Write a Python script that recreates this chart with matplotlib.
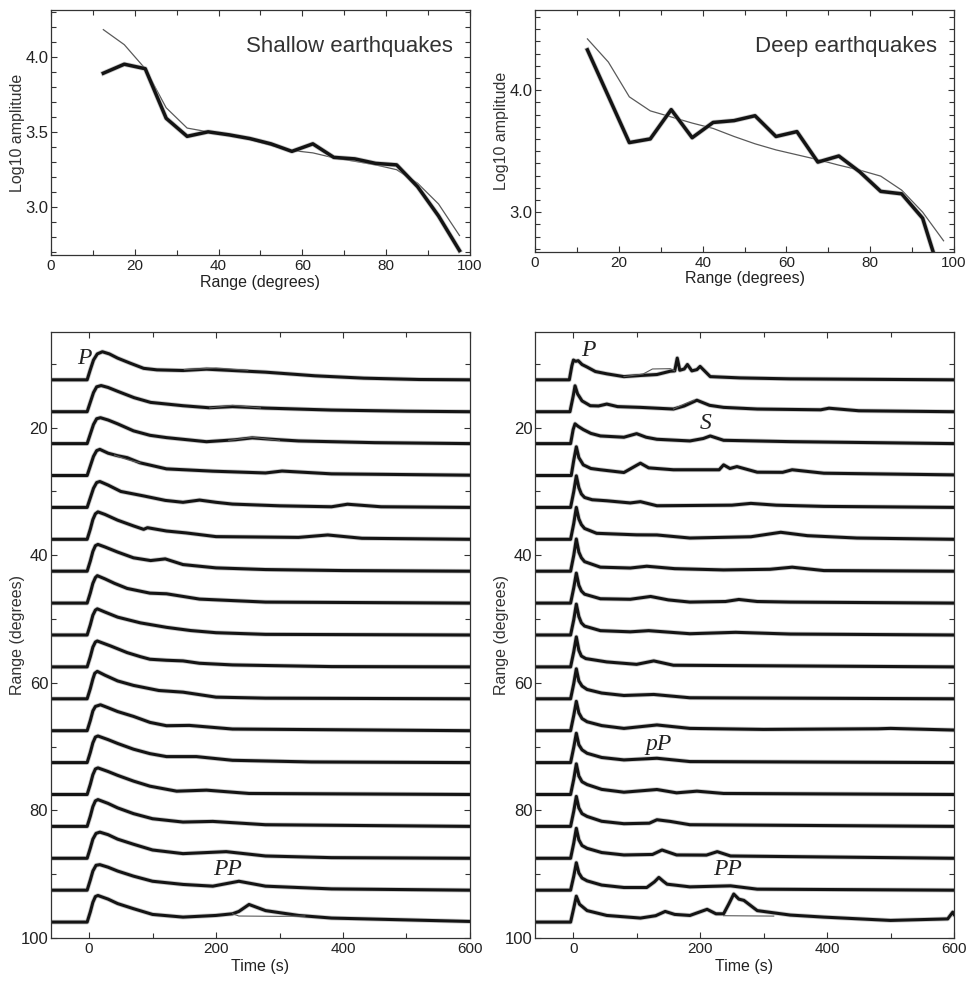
import matplotlib
matplotlib.use("Agg")
import matplotlib.pyplot as plt
from matplotlib.ticker import MultipleLocator, FormatStrFormatter

plt.rcParams['font.family'] = ['Liberation Sans', 'DejaVu Sans']

# --- amplitude against range (top panels) ---
range_deg = [12.5, 17.5, 22.5, 27.5, 32.5, 37.5, 42.5, 47.5, 52.5,
             57.5, 62.5, 67.5, 72.5, 77.5, 82.5, 87.5, 92.5, 97.5]

shallow_amp = [3.89, 3.95, 3.92, 3.59, 3.47, 3.50, 3.48, 3.455, 3.42,
               3.37, 3.42, 3.33, 3.32, 3.29, 3.28, 3.135, 2.94, 2.71]
shallow_model = [4.18, 4.08, 3.92, 3.66, 3.525, 3.50, 3.484, 3.45, 3.41,
                 3.376, 3.36, 3.327, 3.304, 3.28, 3.248, 3.158, 3.02, 2.81]

deep_amp = [4.33, None, 3.57, 3.60, 3.84, 3.61, 3.735, 3.75, 3.79,
            3.62, 3.66, 3.41, 3.46, 3.33, 3.17, 3.15, 2.95, 2.40]
deep_model = [4.42, 4.23, 3.945, 3.83, 3.78, 3.73, 3.686, 3.62, 3.56,
              3.51, 3.47, 3.43, 3.385, 3.344, 3.295, 3.18, 3.00, 2.765]

# --- stacked average waveforms (bottom panels), (time s, amplitude in degrees) ---
shallow_traces = [
    [(-60, 0), (-3, 0), (2, 1.6), (7, 3.1), (13, 4.06), (21, 4.4), (32, 4.06), (45, 3.4), (65, 2.6), (86, 1.8), (107, 1.56), (148, 1.46), (185, 1.67), (226, 1.46), (278, 1.2), (356, 0.63), (433, 0.26), (520, 0.05), (600, 0)],
    [(-60, 0), (-3, 0), (2, 1.5), (7, 3.0), (12, 3.9), (19, 4.1), (30, 3.8), (45, 3.2), (71, 2.2), (97, 1.46), (148, 0.94), (189, 0.62), (226, 0.8), (278, 0.57), (382, 0.26), (500, 0.08), (600, 0)],
    [(-60, 0), (-3, 0), (2, 1.5), (7, 3.0), (12, 3.9), (18, 4.06), (30, 3.7), (45, 3.1), (70, 2.0), (96, 1.3), (122, 0.94), (185, 0.3), (230, 0.6), (257, 0.9), (300, 0.6), (330, 0.42), (450, 0.15), (600, 0)],
    [(-60, 0), (-3, 0), (2, 1.5), (7, 3.0), (12, 3.9), (17, 4.1), (30, 3.5), (45, 3.1), (60, 2.8), (80, 2.0), (122, 1.04), (195, 0.68), (278, 0.4), (304, 0.7), (382, 0.26), (600, 0.05)],
    [(-60, 0), (-3, 0), (2, 1.5), (7, 3.0), (12, 3.9), (17, 4.06), (30, 3.5), (50, 2.5), (86, 1.8), (120, 1.1), (148, 0.8), (174, 1.15), (200, 0.8), (226, 0.52), (300, 0.25), (382, 0.1), (407, 0.5), (460, 0.1), (600, 0)],
    [(-60, 0), (-3, 0), (2, 1.6), (6, 3.1), (10, 4.0), (14, 4.3), (25, 3.9), (45, 3.0), (70, 2.1), (86, 1.56), (92, 1.82), (122, 1.3), (153, 1.0), (200, 0.42), (330, 0.3), (376, 0.68), (430, 0.16), (600, 0)],
    [(-60, 0), (-3, 0), (2, 1.6), (6, 3.1), (10, 4.0), (14, 4.2), (25, 3.8), (45, 3.0), (70, 2.1), (97, 1.67), (120, 1.93), (148, 1.04), (200, 0.52), (278, 0.26), (400, 0.1), (600, 0)],
    [(-60, 0), (-3, 0), (2, 1.6), (6, 3.1), (10, 4.0), (13, 4.3), (25, 3.8), (40, 3.1), (60, 2.3), (96, 1.56), (122, 1.46), (174, 0.63), (278, 0.16), (600, 0)],
    [(-60, 0), (-3, 0), (2, 1.6), (6, 3.1), (10, 3.9), (13, 4.1), (25, 3.6), (45, 2.8), (81, 1.9), (122, 1.2), (160, 0.7), (200, 0.36), (278, 0.1), (600, 0)],
    [(-60, 0), (-3, 0), (2, 1.6), (6, 3.1), (10, 3.9), (13, 4.06), (34, 3.28), (60, 2.24), (81, 1.6), (96, 1.2), (122, 1.04), (148, 0.94), (174, 0.57), (226, 0.31), (290, 0.2), (382, 0.05), (600, 0)],
    [(-60, 0), (-3, 0), (2, 1.6), (6, 3.1), (9, 4.0), (13, 4.3), (25, 3.7), (45, 2.8), (70, 2.1), (110, 1.3), (148, 1.04), (200, 0.26), (278, 0.1), (600, 0)],
    [(-60, 0), (-3, 0), (2, 1.6), (6, 3.1), (10, 3.8), (18, 4.06), (30, 3.6), (45, 3.0), (70, 2.24), (96, 1.3), (122, 0.78), (158, 0.83), (226, 0.26), (600, 0)],
    [(-60, 0), (-3, 0), (2, 1.6), (6, 3.1), (10, 4.0), (14, 4.17), (30, 3.6), (45, 3.0), (70, 2.1), (96, 1.4), (122, 0.94), (169, 0.94), (226, 0.36), (350, 0.1), (600, 0)],
    [(-60, 0), (-3, 0), (2, 1.6), (6, 3.1), (10, 4.0), (14, 4.17), (30, 3.6), (45, 3.0), (70, 2.1), (96, 1.3), (138, 0.52), (185, 0.68), (252, 0.16), (600, 0)],
    [(-60, 0), (-3, 0), (2, 1.6), (6, 3.1), (10, 4.0), (14, 4.2), (30, 3.6), (45, 2.9), (70, 2.0), (100, 1.2), (148, 0.68), (195, 0.78), (278, 0.26), (600, 0)],
    [(-60, 0), (-3, 0), (2, 1.6), (6, 3.0), (11, 3.9), (17, 4.1), (30, 3.7), (45, 3.0), (70, 2.2), (100, 1.3), (148, 0.73), (216, 1.04), (278, 0.36), (382, 0.1), (600, 0)],
    [(-60, 0), (-3, 0), (2, 1.6), (6, 3.0), (11, 3.9), (17, 4.0), (30, 3.6), (45, 3.0), (70, 2.2), (100, 1.4), (148, 0.9), (195, 0.63), (236, 1.4), (278, 0.63), (382, 0.2), (600, 0)],
    [(-60, 0), (-3, 0), (2, 1.6), (6, 3.1), (10, 4.0), (14, 4.17), (30, 3.6), (45, 2.9), (70, 2.1), (100, 1.2), (148, 0.78), (200, 1.04), (226, 1.3), (236, 1.67), (252, 2.76), (278, 1.8), (330, 1.04), (382, 0.63), (600, 0.1)],
]

deep_traces = [
    [(-60, 0), (-6, 0), (-2, 2.2), (0.5, 3.1), (4, 2.9), (8, 3.0), (14, 2.4), (22, 2.0), (35, 1.3), (53, 0.94), (80, 0.5), (106, 0.68), (132, 0.83), (153, 1.35), (160, 1.4), (164, 3.4), (168, 1.5), (175, 1.7), (180, 2.4), (187, 1.4), (195, 1.6), (200, 2.1), (216, 0.5), (263, 0.3), (342, 0.15), (600, 0)],
    [(-60, 0), (-5, 0), (0, 2.4), (3, 4.06), (7, 2.8), (14, 1.7), (27, 0.94), (40, 0.9), (53, 1.2), (70, 0.8), (106, 0.68), (158, 0.42), (175, 0.9), (195, 1.8), (215, 1.0), (237, 0.68), (290, 0.42), (390, 0.3), (403, 0.55), (450, 0.15), (600, 0)],
    [(-60, 0), (-4, 0), (0, 2.2), (3, 3.1), (8, 2.7), (16, 2.2), (28, 1.6), (43, 1.2), (80, 1.0), (100, 1.56), (115, 1.0), (132, 0.68), (184, 0.42), (205, 0.8), (216, 1.2), (237, 0.52), (342, 0.31), (600, 0)],
    [(-60, 0), (-3, 0), (1, 2.4), (5, 4.5), (9, 2.8), (16, 1.67), (28, 1.1), (43, 0.9), (80, 0.47), (100, 1.6), (106, 1.93), (119, 1.2), (158, 0.9), (230, 0.9), (237, 1.67), (247, 1.1), (258, 1.4), (290, 0.52), (330, 0.5), (345, 0.9), (395, 0.36), (600, 0.1)],
    [(-60, 0), (-4, 0), (1, 2.5), (5, 4.95), (9, 3.1), (13, 2.1), (18, 1.56), (30, 1.2), (53, 1.04), (90, 0.7), (106, 0.9), (132, 0.26), (250, 0.35), (280, 0.63), (320, 0.35), (395, 0.16), (600, 0)],
    [(-60, 0), (-4, 0), (1, 2.5), (5, 5.0), (9, 3.2), (13, 2.3), (18, 1.7), (37, 0.94), (100, 0.7), (132, 0.68), (184, 0.2), (280, 0.4), (327, 1.1), (369, 0.57), (447, 0.2), (600, 0)],
    [(-60, 0), (-4, 0), (1, 2.5), (5, 5.05), (9, 3.0), (13, 2.1), (18, 1.5), (43, 0.63), (90, 0.5), (116, 0.78), (160, 0.4), (237, 0.2), (310, 0.3), (345, 0.63), (395, 0.1), (600, 0)],
    [(-60, 0), (-4, 0), (1, 2.4), (5, 4.7), (9, 2.8), (13, 1.9), (18, 1.4), (43, 0.68), (90, 0.6), (122, 1.04), (150, 0.5), (184, 0.16), (240, 0.25), (261, 0.57), (290, 0.25), (342, 0.16), (600, 0)],
    [(-60, 0), (-4, 0), (1, 2.4), (5, 4.84), (9, 2.9), (13, 1.9), (18, 1.4), (43, 0.68), (90, 0.5), (119, 0.68), (184, 0.2), (256, 0.42), (342, 0.15), (600, 0)],
    [(-60, 0), (-4, 0), (1, 2.4), (5, 4.7), (9, 2.6), (13, 1.7), (20, 1.3), (53, 0.78), (100, 0.4), (127, 0.94), (158, 0.26), (600, 0)],
    [(-60, 0), (-4, 0), (1, 2.4), (5, 4.7), (9, 2.8), (14, 2.0), (22, 1.46), (45, 0.9), (80, 0.52), (127, 0.68), (184, 0.16), (600, 0)],
    [(-60, 0), (-4, 0), (1, 2.4), (5, 4.6), (9, 2.8), (14, 1.9), (22, 1.4), (45, 0.8), (80, 0.36), (132, 0.9), (184, 0.36), (300, 0.2), (480, 0.3), (500, 0.36), (600, 0.1)],
    [(-60, 0), (-4, 0), (1, 2.4), (5, 4.6), (9, 2.8), (14, 2.0), (22, 1.46), (45, 0.8), (80, 0.42), (132, 0.68), (184, 0.16), (600, 0)],
    [(-60, 0), (-4, 0), (1, 2.4), (5, 4.8), (9, 2.9), (14, 2.0), (22, 1.56), (45, 0.8), (80, 0.36), (132, 0.78), (163, 0.26), (195, 0.52), (237, 0.16), (600, 0)],
    [(-60, 0), (-4, 0), (1, 2.4), (5, 4.7), (9, 2.9), (14, 2.0), (22, 1.56), (45, 0.8), (80, 0.42), (120, 0.5), (132, 1.04), (153, 0.78), (184, 0.26), (600, 0)],
    [(-60, 0), (-4, 0), (1, 2.4), (5, 4.7), (9, 2.9), (14, 2.0), (22, 1.56), (45, 0.9), (80, 0.52), (125, 0.6), (140, 1.3), (163, 0.52), (210, 0.5), (227, 1.04), (248, 0.36), (600, 0)],
    [(-60, 0), (-4, 0), (1, 2.2), (5, 4.3), (9, 2.7), (14, 1.9), (22, 1.46), (45, 0.8), (80, 0.42), (116, 0.42), (128, 1.3), (135, 2.0), (142, 1.4), (148, 0.94), (184, 0.52), (248, 0.68), (290, 0.16), (600, 0)],
    [(-60, 0), (-4, 0), (1, 2.2), (5, 4.06), (10, 2.8), (22, 1.8), (53, 1.04), (106, 0.63), (130, 1.0), (145, 1.67), (160, 1.2), (184, 1.04), (211, 2.0), (225, 1.3), (237, 1.3), (245, 2.8), (253, 4.4), (261, 3.6), (269, 3.4), (290, 1.8), (342, 1.1), (395, 0.78), (500, 0.26), (590, 0.5), (598, 1.56), (600, 1.2)],
]

# thin model curves where they separate from the data: (trace index, points)
shallow_model_parts = [
    (0, [(150, 1.6), (200, 1.85), (250, 1.5)]),
    (1, [(190, 0.6), (226, 1.0), (270, 0.6)]),
    (2, [(220, 0.5), (257, 1.0), (300, 0.5)]),
    (3, [(40, 3.2), (60, 2.5), (80, 2.0)]),
    (17, [(226, 1.3), (236, 0.95), (300, 0.9), (340, 0.95)]),
]
deep_model_parts = [
    (0, [(80, 0.5), (110, 0.9), (125, 1.7), (153, 1.75), (160, 1.4)]),
    (1, [(158, 0.42), (175, 1.2), (190, 1.8)]),
    (17, [(237, 1.0), (316, 0.94)]),
]

# phase labels (time s, range deg)
shallow_phases = [("P", -8, 9.2), ("PP", 218, 89.2)]
deep_phases = [("P", 24, 7.9), ("S", 208, 19.3), ("pP", 134, 69.6), ("PP", 243, 89.2)]

INK = '#141414'
HALO = '#a8a8a8'
GREY = '#5a5a5a'
FRAME = '#333333'


def style_axes(ax):
    for s in ax.spines.values():
        s.set_color(FRAME)
        s.set_linewidth(0.9)
    ax.tick_params(which='both', direction='in', top=True, right=True,
                   colors=FRAME, labelcolor='#222222')
    ax.tick_params(axis='x', labelsize=11, pad=3)
    ax.tick_params(axis='y', labelsize=12, pad=2)
    ax.tick_params(which='major', length=4.5, width=0.8)
    ax.tick_params(which='minor', length=3.5, width=0.8)


def amp_panel(ax, thick, model, title, ylim):
    xs = [r for r, v in zip(range_deg, thick) if v is not None]
    ys = [v for v in thick if v is not None]
    ax.plot(range_deg, model, color=GREY, lw=0.9)
    ax.plot(xs, ys, color=HALO, lw=3.6, alpha=0.6, solid_joinstyle='round')
    ax.plot(xs, ys, color=INK, lw=2.5, solid_joinstyle='round')
    ax.set_xlim(0, 100)
    ax.set_ylim(*ylim)
    ax.xaxis.set_major_locator(MultipleLocator(20))
    ax.xaxis.set_minor_locator(MultipleLocator(10))
    ax.yaxis.set_major_locator(MultipleLocator(0.5) if ylim[1] < 4.4 else MultipleLocator(1.0))
    ax.yaxis.set_minor_locator(MultipleLocator(0.1))
    ax.yaxis.set_major_formatter(FormatStrFormatter('%.1f'))
    ax.set_xlabel('Range (degrees)', fontsize=11.5, color='#222222')
    ax.set_ylabel('Log10 amplitude', fontsize=11.5, color='#333333')
    ax.xaxis.set_label_coords(0.5, -0.08)
    ax.yaxis.set_label_coords(-0.062, 0.5)
    ax.text(0.96, 0.85, title, transform=ax.transAxes, ha='right', va='center',
            fontsize=16, color='#333333')
    style_axes(ax)


def trace_panel(ax, traces, model_parts, phases):
    for r, pts in zip(range_deg, traces):
        t = [p[0] for p in pts]
        a = [r - p[1] for p in pts]
        ax.plot(t, a, color=HALO, lw=3.4, alpha=0.6, solid_joinstyle='round')
        ax.plot(t, a, color=INK, lw=2.2, solid_joinstyle='round')
    for i, pts in model_parts:
        r = range_deg[i]
        ax.plot([p[0] for p in pts], [r - p[1] for p in pts], color=GREY, lw=0.8)
    for name, t, r in phases:
        ax.text(t, r, name, fontsize=17, style='italic', ha='center', va='center',
                color='#222222', family=['Liberation Serif', 'DejaVu Serif'])
    ax.set_xlim(-60, 600)
    ax.set_ylim(100, 5)
    ax.xaxis.set_major_locator(MultipleLocator(200))
    ax.xaxis.set_minor_locator(MultipleLocator(100))
    ax.yaxis.set_major_locator(MultipleLocator(20))
    ax.yaxis.set_minor_locator(MultipleLocator(10))
    ax.set_xlabel('Time (s)', fontsize=11.5, color='#222222')
    ax.set_ylabel('Range (degrees)', fontsize=11.5, color='#333333')
    ax.xaxis.set_label_coords(0.5, -0.034)
    ax.yaxis.set_label_coords(-0.062, 0.5)
    style_axes(ax)


fig = plt.figure(figsize=(9.67, 9.81), dpi=100)
ax1 = fig.add_axes([0.0527, 0.740, 0.4333, 0.2497])
ax2 = fig.add_axes([0.5533, 0.743, 0.4333, 0.2467])
ax3 = fig.add_axes([0.0527, 0.0438, 0.4333, 0.6178])
ax4 = fig.add_axes([0.5533, 0.0438, 0.4333, 0.6178])

amp_panel(ax1, shallow_amp, shallow_model, 'Shallow earthquakes', (2.68, 4.31))
amp_panel(ax2, deep_amp, deep_model, 'Deep earthquakes', (2.672, 4.656))
trace_panel(ax3, shallow_traces, shallow_model_parts, shallow_phases)
trace_panel(ax4, deep_traces, deep_model_parts, deep_phases)

fig.savefig('out.png', dpi=100)
